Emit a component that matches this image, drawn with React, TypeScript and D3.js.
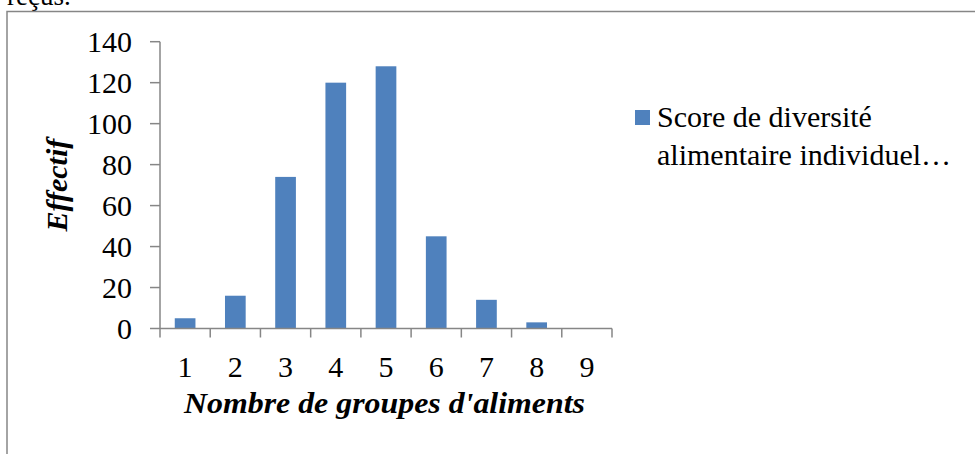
import { useEffect, useRef } from "react";
import * as d3 from "d3";

// Nombre de groupes d'aliments consommés -> effectif
const categories = ["1", "2", "3", "4", "5", "6", "7", "8", "9"];
const counts = [5, 16, 74, 120, 128, 45, 14, 3, 0];
const yTicks = [0, 20, 40, 60, 80, 100, 120, 140];
const legendLines = ["Score de diversité", "alimentaire individuel…"];

const W = 975;
const H = 454;
const FONT = "'Liberation Serif', 'Times New Roman', serif";
const AXIS = "#868686";
const BAR = "#4F81BD";

export default function App() {
  const ref = useRef<SVGSVGElement>(null);

  useEffect(() => {
    if (!ref.current) return;
    const svg = d3.select(ref.current);
    svg.selectAll("*").remove();

    const left = 160, right = 612, top = 41.7, bottom = 328.5;

    const x = d3.scaleBand<string>()
      .domain(categories)
      .range([left, right])
      .paddingInner(0.588)
      .paddingOuter(0.294);
    const y = d3.scaleLinear().domain([0, 140]).range([bottom, top]);

    // text cut off above the figure frame (as in the source page)
    svg.append("text")
      .attr("x", 7).attr("y", 5)
      .attr("font-family", FONT).attr("font-size", 27)
      .text("reçus.");

    // frame
    svg.append("rect")
      .attr("x", 7).attr("y", 11.5)
      .attr("width", W + 10).attr("height", H)
      .attr("fill", "none").attr("stroke", AXIS).attr("stroke-width", 1.5);

    // bars
    svg.append("g").selectAll("rect")
      .data(counts)
      .enter().append("rect")
      .attr("x", (_, i) => x(categories[i])!)
      .attr("y", d => y(d))
      .attr("width", x.bandwidth())
      .attr("height", d => bottom - y(d))
      .attr("fill", BAR);

    // y axis
    const yAxis = svg.append("g");
    yAxis.append("line")
      .attr("x1", left).attr("x2", left).attr("y1", top).attr("y2", bottom)
      .attr("stroke", AXIS).attr("stroke-width", 1.5);
    yTicks.forEach(t => {
      yAxis.append("line")
        .attr("x1", left - 10).attr("x2", left).attr("y1", y(t)).attr("y2", y(t))
        .attr("stroke", AXIS).attr("stroke-width", 1.5);
      yAxis.append("text")
        .attr("x", 132).attr("y", y(t)).attr("dy", "0.35em")
        .attr("text-anchor", "end")
        .attr("font-family", FONT).attr("font-size", 30)
        .text(t);
    });

    // x axis
    const xAxis = svg.append("g");
    xAxis.append("line")
      .attr("x1", left).attr("x2", right).attr("y1", bottom).attr("y2", bottom)
      .attr("stroke", AXIS).attr("stroke-width", 1.5);
    const step = x.step();
    d3.range(categories.length + 1).forEach(i => {
      const tx = left + i * step;
      xAxis.append("line")
        .attr("x1", tx).attr("x2", tx).attr("y1", bottom).attr("y2", bottom + 9)
        .attr("stroke", AXIS).attr("stroke-width", 1.5);
    });
    categories.forEach(c => {
      xAxis.append("text")
        .attr("x", x(c)! + x.bandwidth() / 2).attr("y", 377)
        .attr("text-anchor", "middle")
        .attr("font-family", FONT).attr("font-size", 30)
        .text(c);
    });

    // axis titles
    svg.append("text")
      .attr("x", 184).attr("y", 413)
      .attr("textLength", 401).attr("lengthAdjust", "spacingAndGlyphs")
      .attr("font-family", FONT).attr("font-size", 30)
      .attr("font-weight", "bold").attr("font-style", "italic")
      .text("Nombre de groupes d'aliments");
    svg.append("text")
      .attr("transform", `translate(67,${(top + bottom) / 2}) rotate(-90)`)
      .attr("text-anchor", "middle")
      .attr("font-family", FONT).attr("font-size", 30)
      .attr("font-weight", "bold").attr("font-style", "italic")
      .text("Effectif");

    // legend
    const lg = svg.append("g");
    lg.append("rect")
      .attr("x", 635).attr("y", 110).attr("width", 15).attr("height", 15)
      .attr("fill", BAR);
    legendLines.forEach((l, i) => {
      lg.append("text")
        .attr("x", 657).attr("y", 127 + i * 37.5)
        .attr("font-family", FONT).attr("font-size", 30)
        .text(l);
    });
  }, []);

  return (
    <svg
      ref={ref}
      width={W}
      height={H}
      style={{ position: "absolute", left: 0, top: 0, background: "#fff" }}
    />
  );
}
